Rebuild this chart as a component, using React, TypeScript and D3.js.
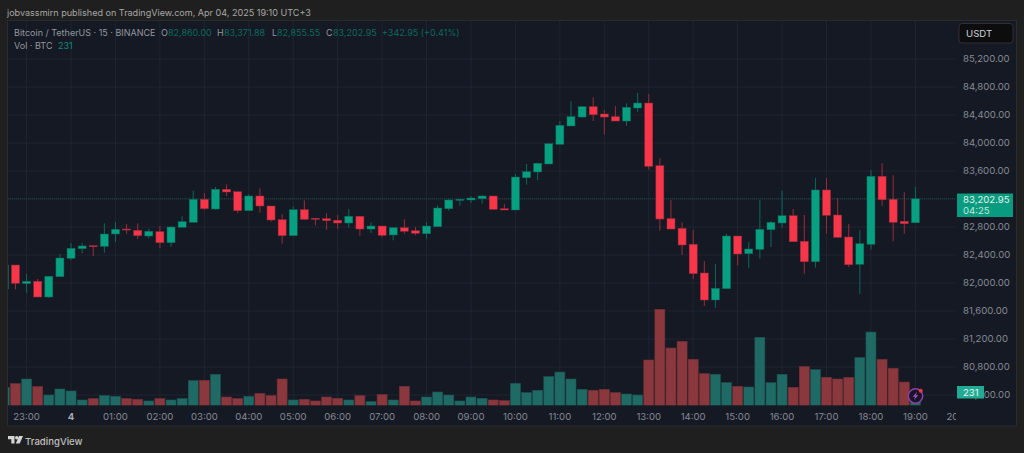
import * as d3 from "d3"
import { useEffect, useRef } from "react"

const opens = [81914, 82257, 81990, 82024, 81800, 82090, 82353, 82490, 82533, 82524, 82700, 82771, 82753, 82671, 82733, 82576, 82796, 82867, 83196, 83057, 83339, 83304, 83033, 83243, 83100, 82904, 82676, 83047, 82924, 82919, 82896, 82857, 82953, 82771, 82814, 82686, 82790, 82747, 82704, 82804, 83061, 83181, 83186, 83204, 83243, 83061, 83043, 83504, 83586, 83700, 83981, 84243, 84371, 84519, 84414, 84376, 84314, 84500, 84571, 83676, 82919, 82781, 82553, 82143, 81757, 81919, 82671, 82419, 82481, 82761, 82857, 82961, 82596, 82304, 83329, 82971, 82657, 82267, 82553, 83524, 83196, 82881, 82860]
const highs = [82270, 82257, 82129, 82057, 82096, 82414, 82571, 82571, 82533, 82853, 82871, 82843, 82853, 82776, 82814, 82810, 82953, 83319, 83286, 83371, 83410, 83304, 83267, 83353, 83100, 82986, 83096, 83181, 82924, 82996, 82971, 83057, 82961, 82867, 82814, 82790, 82910, 82800, 82871, 83110, 83196, 83196, 83243, 83253, 83243, 83129, 83557, 83700, 83719, 83990, 84314, 84596, 84519, 84653, 84471, 84529, 84567, 84714, 84700, 83781, 83186, 82867, 82757, 82314, 82271, 82704, 82671, 82586, 83186, 82886, 83319, 83057, 82971, 83500, 83500, 83210, 82843, 82757, 83614, 83710, 83539, 83296, 83371.88]
const lows = [81900, 81910, 81861, 81800, 81786, 82090, 82329, 82424, 82386, 82433, 82586, 82704, 82629, 82639, 82500, 82519, 82796, 82867, 83043, 83047, 83243, 82996, 83033, 83004, 82876, 82561, 82676, 82910, 82824, 82757, 82771, 82790, 82676, 82714, 82657, 82610, 82704, 82681, 82633, 82804, 83033, 83104, 83143, 83133, 83053, 83043, 83043, 83404, 83471, 83700, 83981, 84243, 84361, 84314, 84119, 84314, 84247, 84443, 83619, 82747, 82771, 82400, 82057, 81671, 81647, 81919, 82253, 82210, 82347, 82514, 82790, 82590, 82133, 82219, 82704, 82643, 82229, 81843, 82476, 83100, 82596, 82704, 82855.55]
const closes = [82257, 81996, 82024, 81800, 82096, 82357, 82496, 82529, 82519, 82700, 82767, 82761, 82676, 82739, 82576, 82800, 82876, 83196, 83061, 83339, 83300, 83033, 83243, 83100, 82900, 82676, 83047, 82910, 82910, 82890, 82857, 82953, 82771, 82814, 82681, 82790, 82739, 82710, 82814, 83071, 83186, 83196, 83214, 83243, 83053, 83043, 83514, 83590, 83710, 83990, 84253, 84376, 84519, 84404, 84371, 84314, 84510, 84571, 83667, 82914, 82771, 82543, 82133, 81757, 81924, 82671, 82414, 82486, 82767, 82867, 82961, 82590, 82304, 83329, 82967, 82653, 82261, 82561, 83524, 83190, 82867, 82847, 83202.95]
const volumes = [308, 371, 450, 320, 176, 279, 245, 91, 115, 166, 154, 115, 103, 74, 115, 91, 115, 422, 428, 530, 142, 115, 154, 205, 166, 450, 91, 103, 74, 142, 120, 91, 166, 63, 183, 91, 325, 74, 142, 227, 176, 74, 142, 120, 91, 80, 376, 217, 257, 491, 569, 450, 274, 257, 274, 217, 193, 176, 775, 1642, 980, 1094, 787, 542, 530, 388, 325, 313, 1163, 388, 530, 308, 662, 610, 479, 450, 479, 816, 1253, 787, 633, 398, 231]

// one label per hour, the first one sits on the third bar
const timeLabels = ["23:00", "4", "01:00", "02:00", "03:00", "04:00", "05:00", "06:00", "07:00", "08:00", "09:00", "10:00", "11:00", "12:00", "13:00", "14:00", "15:00", "16:00", "17:00", "18:00", "19:00", "20:00"]
const priceTicks = [85200, 84800, 84400, 84000, 83600, 83200, 82800, 82400, 82000, 81600, 81200, 80800, 80400]

const lastPrice = 83202.95
const lastVolume = 231
const countdown = "04:25"

const FONT = "Inter, 'Noto Sans', sans-serif"
const UP = "#07a081"
const DOWN = "#f7364a"
const UP_WICK = "#0a6a5c"
const DOWN_WICK = "#9a2b3b"
const UP_VOL = "#206a66"
const DOWN_VOL = "#8a383d"
const PANEL = "#151924"
const PAGE = "#1f1f1f"
const GRID = "#212530"
const AXIS_TEXT = "#868993"
const LEGEND_TEXT = "#94979f"

export default function App() {
  const ref = useRef<SVGSVGElement>(null)

  useEffect(() => {
    if (!ref.current) return
    const svg = d3.select(ref.current)
    svg.selectAll("*").remove()

    const x = d3.scaleLinear().domain([2, 82]).range([26.6, 915.4])
    const y = d3.scaleLinear().domain([85200, 80400]).range([59, 395])
    const v = d3.scaleLinear().domain([0, 1642]).range([405.3, 309.3])

    const plotLeft = 8
    const plotRight = 956
    const plotTop = 21
    const plotBottom = 405.5

    svg.append("rect").attr("width", 1024).attr("height", 453).attr("fill", PAGE)
    svg
      .append("rect")
      .attr("x", 7.5)
      .attr("y", 20.5)
      .attr("width", 1009)
      .attr("height", 405.5)
      .attr("fill", PANEL)
      .attr("stroke", "#2a2b2e")

    const defs = svg.append("defs")
    defs
      .append("clipPath")
      .attr("id", "plot")
      .append("rect")
      .attr("x", plotLeft)
      .attr("y", plotTop)
      .attr("width", plotRight - plotLeft)
      .attr("height", plotBottom - plotTop)
    defs
      .append("clipPath")
      .attr("id", "time-axis")
      .append("rect")
      .attr("x", plotLeft)
      .attr("y", 406)
      .attr("width", plotRight - plotLeft)
      .attr("height", 20)

    const plot = svg.append("g").attr("clip-path", "url(#plot)")

    timeLabels.forEach((_, i) => {
      plot
        .append("line")
        .attr("x1", x(2 + i * 4))
        .attr("x2", x(2 + i * 4))
        .attr("y1", plotTop)
        .attr("y2", plotBottom)
        .attr("stroke", GRID)
    })
    priceTicks.forEach((p) => {
      plot
        .append("line")
        .attr("x1", plotLeft)
        .attr("x2", plotRight)
        .attr("y1", y(p))
        .attr("y2", y(p))
        .attr("stroke", GRID)
    })

    // volume sits under the candles
    volumes.forEach((vol, i) => {
      const up = closes[i] >= opens[i]
      plot
        .append("rect")
        .attr("x", x(i) - 5)
        .attr("y", v(vol))
        .attr("width", 10)
        .attr("height", v(0) - v(vol))
        .attr("fill", up ? UP_VOL : DOWN_VOL)
        .attr("stroke", up ? "#1b5350" : "#6f3035")
        .attr("stroke-width", 0.6)
    })

    plot
      .append("line")
      .attr("x1", plotLeft)
      .attr("x2", plotRight)
      .attr("y1", y(lastPrice))
      .attr("y2", y(lastPrice))
      .attr("stroke", "#174a46")
      .attr("stroke-dasharray", "1,1")

    opens.forEach((open, i) => {
      const close = closes[i]
      const up = close >= open
      plot
        .append("line")
        .attr("x1", x(i))
        .attr("x2", x(i))
        .attr("y1", y(highs[i]))
        .attr("y2", y(lows[i]))
        .attr("stroke", up ? UP_WICK : DOWN_WICK)
        .attr("stroke-width", 1)
      plot
        .append("rect")
        .attr("x", x(i) - 4)
        .attr("y", y(Math.max(open, close)))
        .attr("width", 8)
        .attr("height", Math.max(1, Math.abs(y(open) - y(close))))
        .attr("fill", up ? UP : DOWN)
        .attr("stroke", up ? UP_WICK : DOWN_WICK)
        .attr("stroke-width", 0.5)
    })

    const text = (
      parent: d3.Selection<any, unknown, null, undefined>,
      tx: number,
      ty: number,
      s: string,
      color: string,
      size = 9.6,
    ) =>
      parent
        .append("text")
        .attr("x", tx)
        .attr("y", ty)
        .attr("fill", color)
        .attr("font-family", FONT)
        .attr("font-size", size)
        .text(s)

    // top line and legend
    text(svg, 7, 15.5, "jobvassmirn published on TradingView.com, Apr 04, 2025 19:10 UTC+3", "#a8a8a8", 9.05)

    const legend = [
      { tx: 14, s: "Bitcoin / TetherUS · 15 · BINANCE", c: LEGEND_TEXT },
      { tx: 161, s: "O", c: LEGEND_TEXT },
      { tx: 168, s: "82,860.00", c: UP_WICK },
      { tx: 217, s: "H", c: LEGEND_TEXT },
      { tx: 224, s: "83,371.88", c: UP_WICK },
      { tx: 272, s: "L", c: LEGEND_TEXT },
      { tx: 277, s: "82,855.55", c: UP_WICK },
      { tx: 326, s: "C", c: LEGEND_TEXT },
      { tx: 333, s: "83,202.95", c: UP_WICK },
      { tx: 382, s: "+342.95 (+0.41%)", c: UP_WICK },
    ]
    legend.forEach((d) => text(svg, d.tx, 35.5, d.s, d.c, 9))
    text(svg, 14, 48.5, "Vol · BTC", LEGEND_TEXT, 9)
    text(svg, 58, 48.5, String(lastVolume), "#0f8a78", 9)

    // time axis
    const timeAxis = svg.append("g").attr("clip-path", "url(#time-axis)")
    timeLabels.forEach((label, i) => {
      text(timeAxis, x(2 + i * 4), 419.5, label, label === "4" ? "#a9abb3" : AXIS_TEXT)
        .attr("text-anchor", "middle")
        .attr("font-weight", label === "4" ? 700 : 400)
    })

    // price axis
    priceTicks.forEach((p) => {
      text(svg, 963, y(p) + 2.5, d3.format(",.2f")(p), AXIS_TEXT)
    })

    svg
      .append("rect")
      .attr("x", 959)
      .attr("y", 23.5)
      .attr("width", 54)
      .attr("height", 19.5)
      .attr("rx", 3)
      .attr("fill", "#0d0d0e")
      .attr("stroke", "#303032")
    text(svg, 966, 36.5, "USDT", "#d1d4dc")

    svg
      .append("rect")
      .attr("x", 957)
      .attr("y", 193.5)
      .attr("width", 56)
      .attr("height", 23.5)
      .attr("fill", "#089b80")
    text(svg, 963, 203, d3.format(",.2f")(lastPrice), "#e2f2ee")
    text(svg, 963, 213.5, countdown, "#c2e4dc")

    svg
      .append("rect")
      .attr("x", 957)
      .attr("y", 386)
      .attr("width", 27)
      .attr("height", 12.5)
      .attr("fill", "#22ab94")
    text(svg, 963, 395.5, String(lastVolume), "#e6f5f2")

    // lightning badge over the last bar
    const badge = svg.append("g").attr("transform", "translate(915.5,396)")
    badge.append("circle").attr("r", 7.2).attr("fill", "#1a1526").attr("stroke", "#8e3fb0").attr("stroke-width", 1.4)
    badge.append("path").attr("d", "M1.5,-4 L-2.8,0.8 L-0.4,0.8 L-1.5,4 L2.8,-0.8 L0.4,-0.8 Z").attr("fill", "#a24fc8")
    badge.append("circle").attr("cx", 5.2).attr("cy", -5.2).attr("r", 2).attr("fill", "#f23645")

    // TradingView mark and name
    const logo = svg.append("g").attr("transform", "translate(8,436)").attr("fill", "#d4d4d4")
    logo.append("path").attr("d", "M0,0 H6.5 V7.5 H3.3 V3.2 H0 Z")
    logo.append("circle").attr("cx", 8.7).attr("cy", 1.7).attr("r", 1.7)
    logo.append("path").attr("d", "M11,0 H15 L11.7,7.5 H7.8 Z")
    text(svg, 25, 444.5, "TradingView", "#c0c0c0", 9.6).attr("font-weight", 500)
  }, [])

  return (
    <svg
      ref={ref}
      width={1024}
      height={453}
      style={{ position: "absolute", left: 0, top: 0, display: "block" }}
    />
  )
}
